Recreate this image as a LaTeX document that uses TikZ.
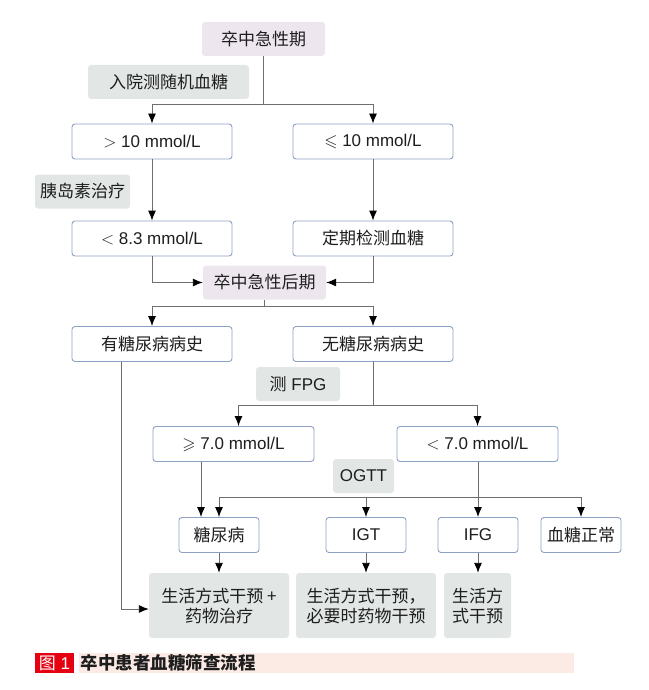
\documentclass[tikz,border=0pt]{standalone}
\usepackage{fontspec}
\usepackage{amssymb}
\setmainfont{Liberation Sans}
\newfontfamily\cjk{Noto Sans CJK SC}
\usetikzlibrary{arrows.meta}
\definecolor{rahmen}{HTML}{8EA1C3}
\definecolor{rosa}{HTML}{EEE6EF}
\definecolor{grau}{HTML}{E2E7E5}
\definecolor{linie}{HTML}{6E6E6E}
\definecolor{rot}{HTML}{E50012}
\definecolor{band}{HTML}{FCEBE5}
\definecolor{schrift}{HTML}{1E1E1E}
\tikzset{
    zh/.style={font=\fontsize{17bp}{20bp}\cjk},
    box/.style={draw=rahmen, line width=0.9bp, rounded corners=3bp, fill=white,
        minimum width=160bp, minimum height=35bp, inner sep=0pt, text=schrift},
    phase/.style={fill=rosa, rounded corners=3bp, minimum width=123bp,
        minimum height=34bp, inner sep=0pt, text=schrift},
    hint/.style={fill=grau, rounded corners=3bp, minimum height=34bp,
        inner sep=0pt, text=schrift},
    line/.style={draw=linie, line width=0.9bp},
    arr/.style={line, -{Latex[length=10bp,width=8bp,color=black]}},
}
\begin{document}
\begin{tikzpicture}[x=1bp, y=-1bp, font=\fontsize{17bp}{20bp}\selectfont]
        \useasboundingbox (0,0) rectangle (649,690);
        % Akutphase
        \node [phase, zh] (acute) at (263.5, 39) {卒中急性期};
        \node [hint, zh, minimum width=161bp] (random) at (168.5, 82) {入院测随机血糖};
        \node [box] (high) at (152, 141.5) {$>$ 10 mmol/L};
        \node [box] (low) at (373, 141.5) {$\leqslant$ 10 mmol/L};
        \node [hint, zh, minimum width=95bp] (insulin) at (82.5, 191.5) {胰岛素治疗};
        \node [box] (target) at (152, 238.5) {$<$ 8.3 mmol/L};
        \node [box, zh] (monitor) at (373, 238.5) {定期检测血糖};
        % Postakutphase
        \node [phase, zh] (post) at (264.5, 282.5) {卒中急性后期};
        \node [box, zh] (hist) at (152, 344) {有糖尿病病史};
        \node [box, zh] (nohist) at (373, 344) {无糖尿病病史};
        \node [hint, minimum width=84bp] (fpg) at (298, 384) {{\cjk 测} FPG};
        \node [box, minimum width=161bp] (ge) at (233.5, 444) {$\geqslant$ 7.0 mmol/L};
        \node [box, minimum width=161bp] (lt) at (477.5, 444) {$<$ 7.0 mmol/L};
        \node [hint, minimum width=61bp] (ogtt) at (363.5, 476) {OGTT};
        % Diagnosen
        \node [box, zh, minimum width=80bp] (dm) at (219, 535) {糖尿病};
        \node [box, minimum width=80bp] (igt) at (366, 535) {IGT};
        \node [box, minimum width=80bp] (ifg) at (478, 535) {IFG};
        \node [box, zh, minimum width=80bp] (normal) at (581, 535) {血糖正常};
        % Behandlung
        \node [hint, zh, minimum width=140bp, minimum height=65bp, align=center] (t1) at (219, 605.5) {生活方式干预 +\\药物治疗};
        \node [hint, zh, minimum width=140bp, minimum height=65bp, align=center] (t2) at (366, 605.5) {生活方式干预，\\必要时药物干预};
        \node [hint, zh, minimum width=67bp, minimum height=65bp, align=center] (t3) at (477.5, 605.5) {生活方\\式干预};
        % Pfeile
        \coordinate (bus1) at (0, 104);
        \coordinate (bus2) at (0, 306);
        \coordinate (bus3) at (0, 405);
        \coordinate (bus4) at (0, 497);
        \draw [line] (acute.south) -- (acute.south |- bus1);
        \draw [arr] (acute.south |- bus1) -| (high.north);
        \draw [arr] (acute.south |- bus1) -| (low.north);
        \draw [arr] (high) -- (target);
        \draw [arr] (low) -- (monitor);
        \draw [arr] (target.south) |- (post.west);
        \draw [arr] (monitor.south) |- (post.east);
        \draw [line] (post.south) -- (post.south |- bus2);
        \draw [arr] (post.south |- bus2) -| (hist.north);
        \draw [arr] (post.south |- bus2) -| (nohist.north);
        \draw [arr] ([xshift=-31bp]hist.south) |- ([yshift=-3.5bp]t1.west);
        \draw [line] (nohist.south) -- (nohist.south |- bus3);
        \draw [arr] (nohist.south |- bus3) -| ([xshift=5bp]ge.north);
        \draw [arr] (nohist.south |- bus3) -| (lt.north);
        \draw [arr] ([xshift=-18bp]dm.north |- ge.south) -- ([xshift=-18bp]dm.north);
        \draw [arr] (ifg.north |- lt.south) -- (ifg.north);
        \draw [line] (dm.north |- bus4) -- (normal.north |- bus4);
        \foreach \n in {dm, igt, normal}
            \draw [arr] (\n.north |- bus4) -- (\n.north);
        \draw [arr] (dm) -- (t1);
        \draw [arr] (igt) -- (t2);
        \draw [arr] (ifg.south) -- (ifg.south |- t3.north);
        % Bildunterschrift
        \node [fill=rot, minimum width=39bp, minimum height=20bp, inner sep=0pt, text=white] (fignum) at (54.5, 663) {{\cjk 图} 1};
        \node [fill=band, minimum height=20bp, text width=492bp, inner xsep=1.5bp, inner ysep=0pt, anchor=west, text=schrift, font=\fontsize{17.5bp}{20bp}\cjk\bfseries] (caption) at (79, 663) {卒中患者血糖筛查流程};
    \end{tikzpicture}
\end{document}
